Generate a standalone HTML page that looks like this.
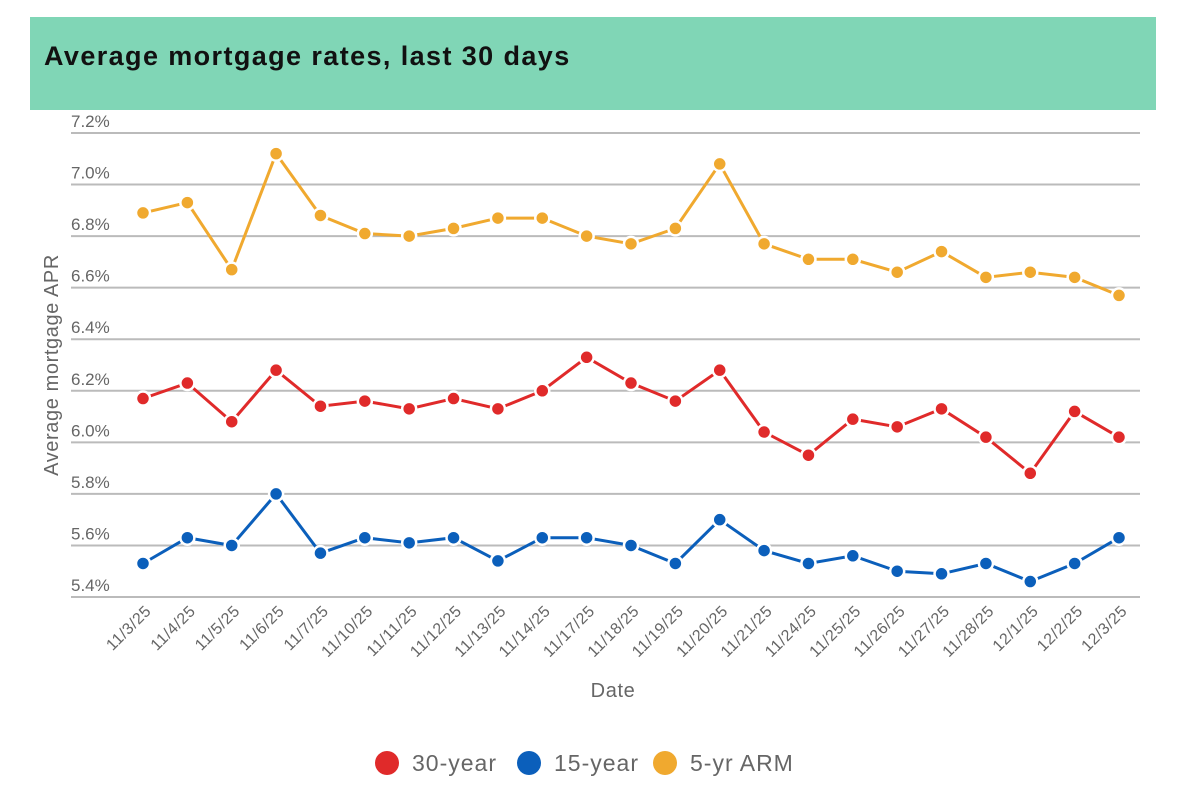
<!DOCTYPE html>
<html><head><meta charset="utf-8"><style>
body{margin:0;background:#fff;font-family:"Liberation Sans",sans-serif;}
#wrap{position:relative;width:1183px;height:790px;overflow:hidden;}
#hdr{position:absolute;left:30px;top:17px;width:1126px;height:93px;background:#80d6b6;}
#hdr h1{margin:0;position:absolute;left:14px;top:24px;font-size:27px;font-weight:bold;color:#111;letter-spacing:1.4px;}
</style></head><body>
<div id="wrap">
<div id="hdr"><h1>Average mortgage rates, last 30 days</h1></div>
<svg id="svg" width="1183" height="790" style="position:absolute;left:0;top:0"></svg>
</div>
<script>
const categories=["11/3/25","11/4/25","11/5/25","11/6/25","11/7/25","11/10/25","11/11/25","11/12/25","11/13/25","11/14/25","11/17/25","11/18/25","11/19/25","11/20/25","11/21/25","11/24/25","11/25/25","11/26/25","11/27/25","11/28/25","12/1/25","12/2/25","12/3/25"];
const arm=[6.89,6.93,6.67,7.12,6.88,6.81,6.80,6.83,6.87,6.87,6.80,6.77,6.83,7.08,6.77,6.71,6.71,6.66,6.74,6.64,6.66,6.64,6.57];
const y30=[6.17,6.23,6.08,6.28,6.14,6.16,6.13,6.17,6.13,6.20,6.33,6.23,6.16,6.28,6.04,5.95,6.09,6.06,6.13,6.02,5.88,6.12,6.02];
const y15=[5.53,5.63,5.60,5.80,5.57,5.63,5.61,5.63,5.54,5.63,5.63,5.60,5.53,5.70,5.58,5.53,5.56,5.50,5.49,5.53,5.46,5.53,5.63];
const yTicks=[5.4,5.6,5.8,6.0,6.2,6.4,6.6,6.8,7.0,7.2];
const yTickLabels=["5.4%","5.6%","5.8%","6.0%","6.2%","6.4%","6.6%","6.8%","7.0%","7.2%"];
const NS="http://www.w3.org/2000/svg";
const svg=document.getElementById('svg');
const x=i=>143+i*(1119-143)/(categories.length-1);
const y=v=>597-(v-5.4)*(597-133)/1.8;
function mk(t,a,p){const e=document.createElementNS(NS,t);for(const k in a)e.setAttribute(k,a[k]);(p||svg).appendChild(e);return e;}
yTicks.forEach((v,i)=>{
 const l=mk('line',{x1:71,x2:1140,y1:y(v),y2:y(v),stroke:'#bbb','stroke-width':2});
 
 
 const t=mk('text',{x:71,y:y(v)-6,'font-size':17,fill:'#666'});t.textContent=yTickLabels[i];
 
 
});
categories.forEach((c,i)=>{
 const t=mk('text',{x:0,y:0,'font-size':16,fill:'#666','text-anchor':'end','letter-spacing':0.5,transform:`translate(${x(i)+9},${612}) rotate(-45)`});t.textContent=c;
 
 
});
const series=[[arm,'#f0a92f','series-5yr-arm'],[y30,'#e02a2a','series-30-year'],[y15,'#0b5fbb','series-15-year']];
series.forEach(([d,c,n])=>{
 const g=mk('g',{});
 
 
 const pl=mk('polyline',{points:d.map((v,i)=>x(i)+','+y(v)).join(' '),fill:'none',stroke:c,'stroke-width':3},g);
 
 
 d.forEach((v,i)=>{const p=mk('circle',{cx:x(i),cy:y(v),r:7,fill:c,stroke:'#fff','stroke-width':2.5},g);
  
  });
});
const yt=mk('text',{x:0,y:0,'font-size':20,fill:'#666','text-anchor':'middle','letter-spacing':0.6,transform:'translate(58,365) rotate(-90)'});yt.textContent='Average mortgage APR';


const xt=mk('text',{x:613,y:697,'font-size':20,fill:'#666','text-anchor':'middle','letter-spacing':0.6});xt.textContent='Date';


const leg=[['30-year','#e02a2a',387],['15-year','#0b5fbb',529],['5-yr ARM','#f0a92f',665]];
leg.forEach(([t,c,lx])=>{
 const g=mk('g',{});
 
 
 mk('circle',{cx:lx,cy:763,r:12,fill:c},g);
 const tx=mk('text',{x:lx+25,y:771,'font-size':23,fill:'#666','letter-spacing':1},g);tx.textContent=t;
});
</script>
</body></html>
